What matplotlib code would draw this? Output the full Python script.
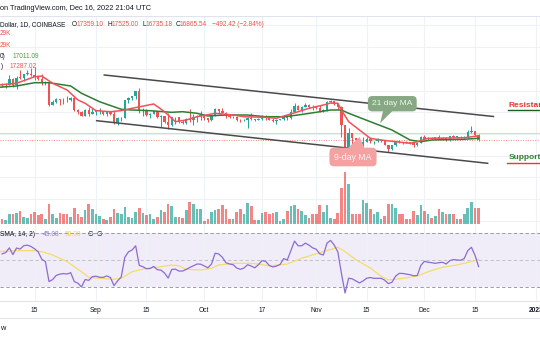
import numpy as np
import pandas as pd
import matplotlib
matplotlib.use("Agg")
import matplotlib.pyplot as plt
import matplotlib.dates as mdates
from matplotlib.lines import Line2D
from matplotlib.patches import Polygon

plt.rcParams['font.family'] = ['Liberation Sans', 'DejaVu Sans']

# ---- data (BTC/USD daily, Coinbase) ----
start = pd.Timestamp('2022-08-06')
dates = pd.date_range(start, '2022-12-16', freq='D')

first_open = 23310.0
closes = [23150, 23180, 23810, 23160, 23950, 23940, 24400, 24440, 24300, 24100,
          23850, 23330, 23360, 20830, 21150, 21530, 21400, 21380, 21370, 21600,
          20240, 20040, 19550, 20280, 19800, 20050, 20130, 20140, 19830, 19990,
          19800, 18790, 19290, 19320, 21360, 21650, 21830, 22400, 20170, 20240,
          19700, 19800, 20110, 19420, 19540, 18880, 18490, 19410, 19440, 18930,
          18800, 19220, 19080, 19410, 19590, 19610, 19310, 19060, 19620, 20340,
          20160, 19960, 19530, 19420, 19450, 19130, 19060, 19160, 19380, 19180,
          19070, 19270, 19550, 19330, 19130, 19040, 19170, 19210, 19570, 19330,
          20090, 20770, 20290, 20600, 20820, 20630, 20490, 20480, 20160, 20210,
          21150, 21300, 20900, 20590, 18540, 15880, 17590, 17040, 16800, 16330,
          16620, 16900, 16660, 16690, 16700, 16710, 16290, 15790, 16190, 16610,
          16600, 16520, 16460, 16440, 16210, 16440, 17160, 16980, 17090, 16890,
          17110, 16970, 17090, 16840, 17220, 17130, 17130, 17090, 17210, 17780,
          17810, 17359.10, 16865.54]
highs = [23360, 23400, 24240, 23930, 24230, 24920, 24450, 24890, 25050, 25210,
         24230, 24450, 23600, 23360, 21370, 21690, 21540, 21680, 21900, 21820,
         21860, 20400, 20160, 20400, 20560, 20480, 20200, 20450, 20140, 20020,
         20050, 20170, 19440, 19460, 21400, 21790, 21850, 22490, 22790, 20540,
         20350, 19890, 20190, 20120, 19680, 19630, 19960, 19490, 19500, 19500,
         19170, 19310, 20360, 19780, 19640, 20180, 19640, 19400, 19690, 20460,
         20360, 20460, 20060, 19610, 19520, 19520, 19250, 19230, 19510, 19940,
         19220, 19370, 19680, 19700, 19360, 19340, 19240, 19260, 19700, 19600,
         20410, 21020, 20870, 20750, 21090, 20930, 20840, 20700, 20800, 20390,
         21300, 21470, 21350, 21050, 20670, 18590, 18150, 17650, 17070, 16880,
         17180, 17120, 16980, 16750, 17000, 16810, 16760, 16290, 16270, 16680,
         16800, 16600, 16690, 16600, 16480, 16530, 17250, 17330, 17110, 17160,
         17200, 17420, 17110, 17120, 17300, 17360, 17230, 17270, 17240, 18000,
         18390, 17850, 17525.00]
lows = [22960, 22850, 23150, 22870, 22670, 23860, 23600, 24290, 24140, 23770,
        23690, 23180, 23110, 20780, 20800, 21100, 20890, 20900, 21130, 21320,
        20130, 19800, 19530, 19520, 19560, 19760, 19640, 19780, 19700, 19610,
        19640, 18690, 18540, 19020, 19300, 21080, 21360, 21560, 19880, 19630,
        19520, 19330, 19770, 19400, 18270, 18760, 18130, 18370, 18610, 18820,
        18650, 18680, 18830, 18490, 18880, 19170, 19170, 18930, 19000, 19520,
        19750, 19870, 19340, 19360, 19320, 19040, 18860, 18980, 18190, 19100,
        18980, 19070, 19160, 19110, 19080, 18910, 18650, 19110, 19080, 19160,
        19250, 20060, 20220, 20010, 20560, 20520, 20240, 20350, 20060, 20040,
        20180, 21080, 20890, 20400, 17170, 15590, 15750, 16400, 16550, 16240,
        15830, 16540, 16410, 16400, 16560, 16540, 16260, 15480, 15630, 16160,
        16460, 16340, 16410, 16400, 15990, 16110, 16430, 16860, 16790, 16870,
        16880, 16870, 16910, 16680, 16740, 17090, 17090, 17070, 16880, 17090,
        17660, 17280, 16735.18]
volume_k = [8.7, 7.0, 19.1, 17.4, 20.3, 23.2, 13.3, 11.6, 17.4, 22.0,
            15.7, 17.4, 9.9, 34.8, 17.4, 11.6, 20.3, 17.4, 17.4, 13.3,
            29.0, 17.4, 13.3, 24.9, 36.5, 27.8, 18.6, 14.5, 8.7, 8.1,
            13.3, 26.1, 20.3, 17.4, 30.7, 13.3, 11.6, 22.0, 29.0, 20.3,
            15.7, 19.1, 9.9, 13.3, 24.4, 21.5, 34.8, 31.9, 13.3, 13.3,
            11.6, 24.9, 39.4, 34.8, 26.1, 26.1, 5.8, 9.9, 22.0, 24.9,
            26.1, 33.6, 27.3, 8.7, 9.9, 22.0, 27.8, 19.1, 37.7, 31.9,
            7.0, 7.5, 20.3, 21.5, 19.1, 20.3, 22.0, 5.8, 8.7, 23.2,
            31.9, 33.6, 26.1, 23.2, 15.7, 11.6, 17.4, 17.4, 33.6, 21.5,
            33.1, 11.6, 8.7, 20.3, 63.8, 91.1, 69.6, 19.1, 19.1, 17.4,
            42.3, 37.7, 27.3, 19.1, 21.5, 8.7, 14.5, 34.8, 34.8, 29.0,
            17.4, 17.4, 9.9, 8.7, 23.2, 15.7, 33.1, 23.2, 17.4, 11.6,
            14.5, 26.1, 21.5, 19.1, 19.1, 18.6, 8.7, 8.7, 17.4, 29.0,
            38.9, 29.0, 29.0]
rsi = [54.5, 55.5, 59.0, 54.0, 58.9, 58.1, 60.6, 61.0, 60.0, 58.3,
       56.0, 50.5, 48.8, 34.0, 35.5, 38.6, 39.5, 39.9, 39.6, 40.6,
       34.0, 32.8, 30.0, 35.5, 34.9, 37.6, 38.0, 37.2, 37.1, 38.2,
       37.0, 31.0, 34.5, 37.4, 52.0, 56.0, 57.4, 60.5, 46.0, 45.0,
       43.5, 43.7, 45.2, 42.8, 42.5, 40.3, 36.6, 43.0, 43.2, 41.8,
       41.8, 43.0, 44.5, 45.7, 47.0, 46.9, 45.6, 44.2, 47.0, 55.0,
       54.5, 52.0, 48.0, 47.0, 46.5, 44.0, 43.1, 44.0, 46.5, 45.5,
       44.2, 46.5, 49.5, 49.0, 46.0, 44.8, 45.5, 46.7, 51.0, 50.0,
       57.0, 64.0, 60.5, 60.5, 62.5, 61.0, 59.0, 58.0, 54.5, 53.7,
       62.5, 64.5, 61.0, 56.0, 40.0, 25.5, 36.5, 36.0, 34.5, 33.0,
       34.5, 36.5, 37.0, 36.4, 36.4, 36.4, 35.0, 32.5, 33.5, 38.0,
       40.1, 40.0, 39.5, 39.1, 38.3, 38.5, 46.0, 49.0, 48.3, 48.0,
       47.5, 48.0, 48.3, 47.0, 49.5, 50.3, 50.0, 49.8, 51.0, 57.0,
       59.4, 53.5, 45.08]

# moving averages (day offset from start, value)
ma9_day = [-1, 4, 9, 11, 14, 18, 21, 23, 26, 30, 33, 36, 42, 45, 48, 51, 54, 59, 64, 67,
           73, 76, 79, 82, 85, 89, 91, 93, 94, 96, 99, 102, 105, 109, 113, 115, 118, 128, 132]
ma9 = [23145, 23340, 24100, 24180, 23340, 22570, 21420, 21040, 20190, 20070, 20190, 20460,
       20960, 20070, 18920, 19110, 19490, 19880, 19690, 19490, 19420, 19310, 19690, 20070,
       20460, 20840, 21070, 21040, 20260, 18920, 17960, 17000, 16810, 16610, 16430, 16610,
       17000, 17070, 17287.02]
ma21_day = [-1, 4, 9, 13, 19, 22, 27, 33, 36, 41, 47, 50, 54, 57, 62, 68, 73, 78, 82, 87,
            91, 94, 96, 102, 108, 113, 116, 119, 128, 132]
ma21 = [22880, 23030, 23410, 23410, 23030, 22190, 21220, 20345, 20265, 20185, 20000, 20070,
        19885, 19575, 19690, 19690, 19490, 19490, 19690, 20000, 20265, 20265, 19885, 18920,
        17960, 16810, 16610, 16810, 16890, 17011.09]
rsi_ma_day = [-1, 4, 9, 11, 14, 18, 22, 24, 27, 31, 33, 36, 40, 44, 47, 49, 51, 55, 58, 60,
              64, 69, 71, 74, 79, 83, 88, 93, 95, 98, 102, 105, 107, 111, 115, 118, 122, 126,
              130, 132]
rsi_ma = [56.2, 56.9, 56.9, 56.2, 53.7, 48.8, 41.3, 37.2, 36.4, 35.7, 36.4, 41.3, 43.8, 45.0,
          46.3, 45.7, 43.1, 42.6, 43.8, 46.3, 47.5, 47.5, 47.0, 45.6, 47.0, 51.3, 55.4, 59.4,
          56.2, 50.2, 44.1, 37.9, 35.2, 36.4, 38.1, 41.3, 44.6, 46.3, 48.8, 50.30]

# trend channel drawn on the chart
upper_day = [28.3, 136.1]
upper_price = [24297, 19516]
lower_day = [26.2, 134.5]
lower_price = [19032, 14125]
level_line = 17620

tick_dates = ['2022-08-15', '2022-09-01', '2022-09-15', '2022-10-01', '2022-10-17',
              '2022-11-01', '2022-11-15', '2022-12-01', '2022-12-15', '2023-01-01']
tick_labels = ['15', 'Sep', '15', 'Oct', '17', 'Nov', '15', 'Dec', '15', '2023']

# ---- figure ----
W, H = 540, 340
fig = plt.figure(figsize=(W / 100, H / 100), dpi=100)
fig.patch.set_facecolor('white')

def fy(y):
    return 1 - y / H

pos_main = [0, fy(228), 1, (228 - 16) / H]
axg = fig.add_axes(pos_main)
axv = fig.add_axes(pos_main, sharex=axg)
ax = fig.add_axes(pos_main, sharex=axg, sharey=axg)
axr = fig.add_axes([0, fy(301), 1, (301 - 228) / H], sharex=axg)

x0 = mdates.date2num(start.to_pydatetime())
xs = mdates.date2num(dates.to_pydatetime())
tick_x = mdates.date2num(pd.to_datetime(tick_dates).to_pydatetime())

axg.set_xlim(x0 - 0.58, x0 + 149.0)
axg.set_ylim(6671, 31094)
axv.set_ylim(-6.1, 362.6)
axr.set_ylim(19.6, 73.7)

grid_c = '#eef1f6'
for a in (axg, axr):
    for s in a.spines.values():
        s.set_visible(False)
    a.set_xticks(tick_x)
    a.set_yticks([])
    a.tick_params(length=0)
axg.set_yticks(np.arange(7500, 30001, 2500))
axg.tick_params(labelbottom=False, labelleft=False)
axg.grid(True, color=grid_c, lw=0.75)
axr.grid(True, axis='x', color=grid_c, lw=0.75)
axr.patch.set_alpha(0)
axv.axis('off')
ax.axis('off')

# candles
c = np.array(closes, dtype=float)
o = np.array([first_open] + closes[:-1], dtype=float)
up = c >= o
cols = np.where(up, '#26a69a', '#ef5350')
ax.vlines(xs, lows, highs, colors=cols, lw=0.75, zorder=3)
body = np.maximum(np.abs(c - o), 90)
ax.bar(xs, body, bottom=np.minimum(o, c), width=0.66, color=cols, lw=0, zorder=4)

# volume
axv.bar(xs, volume_k, width=0.74, color=cols, alpha=0.7, lw=0)

# horizontal levels
ax.axhline(level_line, color='#c9e2c9', lw=0.8, zorder=2)
ax.axhline(c[-1], color='#e88a80', lw=0.7, ls=(0, (1, 1.5)), zorder=2)

# moving averages
ax.plot(x0 + np.array(ma21_day), ma21, color='#2e7d32', lw=1.1, zorder=5)
ax.plot(x0 + np.array(ma9_day), ma9, color='#f0525a', lw=1.1, zorder=6)

# channel
ax.plot(x0 + np.array(upper_day), upper_price, color='#4a4a4a', lw=1.1, zorder=7)
ax.plot(x0 + np.array(lower_day), lower_price, color='#4a4a4a', lw=1.1, zorder=7)

# callouts
green_box = '#86a882'
pink_box = '#f4a1a1'
ax.add_patch(Polygon([[x0 + 105.6, 20265], [x0 + 108.4, 20265], [x0 + 104.7, 18733]],
                     closed=True, fc=green_box, ec='none', zorder=8))
ax.text(x0 + 108.1, 20990, '21 day MA', ha='center', va='center', fontsize=6,
        color='#eef4ec', zorder=9,
        bbox=dict(boxstyle='round,pad=0.5,rounding_size=0.5', fc=green_box, ec='none'))
ax.add_patch(Polygon([[x0 + 95.5, 15772], [x0 + 100.5, 15772], [x0 + 99.0, 17154]],
                     closed=True, fc=pink_box, ec='none', zorder=8))
ax.text(x0 + 97.2, 14850, '9-day MA', ha='center', va='center', fontsize=6.3,
        color='#fff2f2', zorder=9,
        bbox=dict(boxstyle='round,pad=0.55,rounding_size=0.5', fc=pink_box, ec='none'))

# RSI pane
axr.axhspan(30, 70, color='#7e57c2', alpha=0.1, lw=0)
axr.axhline(70, color='#8a8d96', lw=0.6, dashes=(4, 3))
axr.axhline(30, color='#8a8d96', lw=0.6, dashes=(4, 3))
axr.axhline(50, color='#b8bac2', lw=0.6, dashes=(4, 3))
axr.plot(x0 + np.array(rsi_ma_day), rsi_ma, color='#f3dd6a', lw=0.9)
axr.plot(xs, rsi, color='#8b6ccf', lw=0.9)

axr.set_xticklabels(tick_labels, fontsize=4.8, color='#131722')
axr.tick_params(axis='x', pad=4.5)
axr.get_xticklabels()[-1].set_fontweight('bold')

# border lines
for yb in (16, 301, 318):
    fig.add_artist(Line2D([0, 1], [fy(yb), fy(yb)], color='#e0e3eb', lw=0.7))

# texts
def label(x, y, s, **kw):
    fig.text(x / W, fy(y), s, ha='left', va='center', **kw)

dark = '#131722'
red = '#ef5350'
label(0, 8.3, 'on TradingView.com, Dec 16, 2022 21:04 UTC', fontsize=5.3, color=dark)
label(0, 24.3, 'Dollar, 1D, COINBASE', fontsize=4.7, color=dark)
for lx, ltr, nx, num in [(71.7, 'O', 76.2, '17359.10'), (107.3, 'H', 111.7, '17525.00'),
                         (142.3, 'L', 145.7, '16735.18'), (175.7, 'C', 180.0, '16865.54')]:
    label(lx, 24.3, ltr, fontsize=4.7, color=dark)
    label(nx, 24.3, num, fontsize=4.7, color=red)
label(211.7, 24.3, '\u2212492.42 (\u22122.84%)', fontsize=4.7, color=red)
label(-0.3, 33.3, '29K', fontsize=4.7, color=red)
label(-0.3, 45.7, '29K', fontsize=4.7, color=red)
label(0, 56.7, '0)', fontsize=4.7, color=dark)
label(12.3, 56.7, '17011.09', fontsize=4.7, color='#43a047')
label(0, 66.7, ')', fontsize=4.7, color=dark)
label(9.3, 66.7, '17287.02', fontsize=4.7, color=red)

label(0, 235, 'SMA, 14, 2)', fontsize=4.8, color=dark)
label(42.7, 235, '45.08', fontsize=4.8, color='#9277d9')
label(65, 235, '50.30', fontsize=4.8, color='#f0d548')
label(87.7, 235, '\u2205', fontsize=4.8, color=dark)
label(96.7, 235, '\u2205', fontsize=4.8, color=dark)
label(0.5, 329, 'w', fontsize=5.3, color=dark)

label(508.3, 105.7, 'Resistance', fontsize=6, color='#e53935', fontweight='bold')
fig.add_artist(Line2D([508 / W, 1], [fy(110.5), fy(110.5)], color='#1b5e20', lw=1.0))
label(508.3, 157.3, 'Support', fontsize=6, color='#2e7d32', fontweight='bold')
fig.add_artist(Line2D([507 / W, 1], [fy(163.3), fy(163.3)], color='#e53935', lw=1.0))

fig.savefig('out.png', dpi=100)
